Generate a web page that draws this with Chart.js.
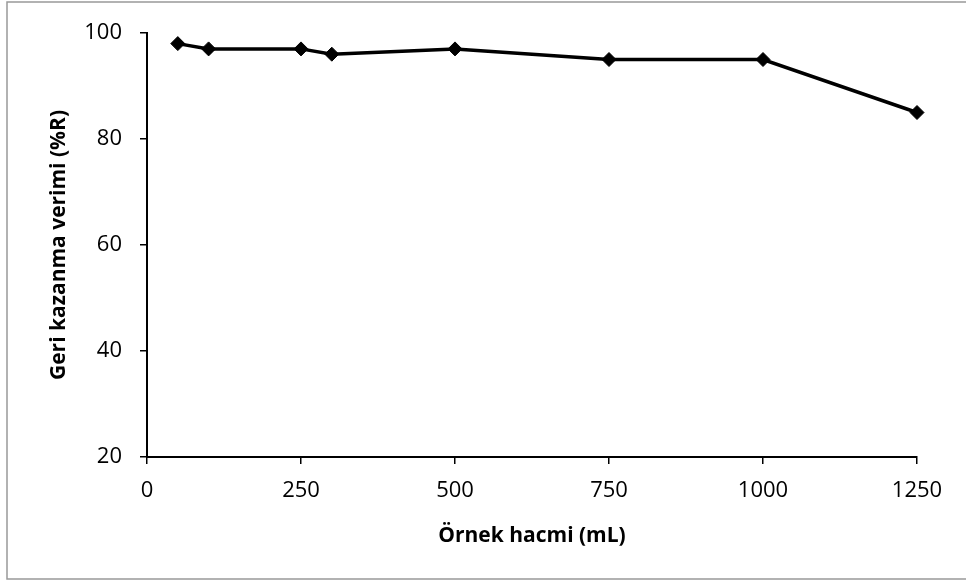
<!DOCTYPE html>
<html lang="tr">
  <head>
    <meta charset="UTF-8" />
    <script src="https://cdn.jsdelivr.net/npm/chart.js@4.4.0/dist/chart.umd.min.js"></script>
    <title>Geri kazanma verimi</title>
    <style>
      body { margin: 0; background: #fff; }
    </style>
  </head>
  <body>
    <canvas id="myChart" width="966" height="583"></canvas>

    <script>
      // sample volume (mL) and recovery (%R)
      var volume = [50, 100, 250, 300, 500, 750, 1000, 1250];
      var recovery = [98, 97, 97, 96, 97, 95, 95, 85];
      var xTitle = 'Örnek hacmi (mL)';
      var yTitle = 'Geri kazanma verimi (%R)';

      var points = volume.map((v, i) => ({ x: v, y: recovery[i] }));

      // grey frame round the whole chart
      var frame = {
        id: 'frame',
        beforeDraw(chart) {
          var ctx = chart.ctx;
          ctx.save();
          ctx.fillStyle = '#fff';
          ctx.fillRect(0, 0, chart.width, chart.height);
          ctx.strokeStyle = '#999';
          ctx.lineWidth = 1.5;
          ctx.strokeRect(7, 2, 970, 577);
          ctx.restore();
        }
      };

      var ctx = document.getElementById('myChart').getContext('2d');
      var myChart = new Chart(ctx, {
        type: 'line',
        data: {
          datasets: [
            {
              data: points,
              borderColor: '#000',
              backgroundColor: '#000',
              borderWidth: 3.5,
              pointStyle: 'rectRot',
              pointRadius: 7,
              pointBorderWidth: 1,
              tension: 0,
              clip: false
            }
          ]
        },
        plugins: [frame],
        options: {
          responsive: false,
          animation: false,
          layout: { padding: { left: 0, top: 33, right: 49, bottom: 0 } },
          plugins: {
            legend: { display: false },
            tooltip: { enabled: false }
          },
          scales: {
            x: {
              type: 'linear',
              min: 0,
              max: 1250,
              afterFit(s) { s.height = 126; },
              ticks: {
                stepSize: 250,
                color: '#000',
                padding: 14,
                callback: v => String(v),
                font: { family: 'Open Sans', size: 22 }
              },
              grid: { display: true, drawOnChartArea: false, color: '#000', tickLength: 7, lineWidth: 1.5 },
              border: { display: true, color: '#000', width: 2 },
              title: {
                display: true,
                text: xTitle,
                color: '#000',
                padding: { top: 0, bottom: 34 },
                font: { family: 'Open Sans', size: 21, weight: 'bold' }
              }
            },
            y: {
              min: 20,
              max: 100,
              afterFit(s) { s.width = 147; },
              ticks: {
                stepSize: 20,
                color: '#000',
                padding: 18,
                font: { family: 'Open Sans', size: 22 }
              },
              grid: { display: true, drawOnChartArea: false, color: '#000', tickLength: 7, lineWidth: 1.5 },
              border: { display: true, color: '#000', width: 2 },
              title: {
                display: true,
                text: yTitle,
                color: '#000',
                padding: { top: 46, bottom: 0 },
                font: { family: 'Open Sans', size: 21, weight: 'bold' }
              }
            }
          }
        }
      });
    </script>
  </body>
</html>
